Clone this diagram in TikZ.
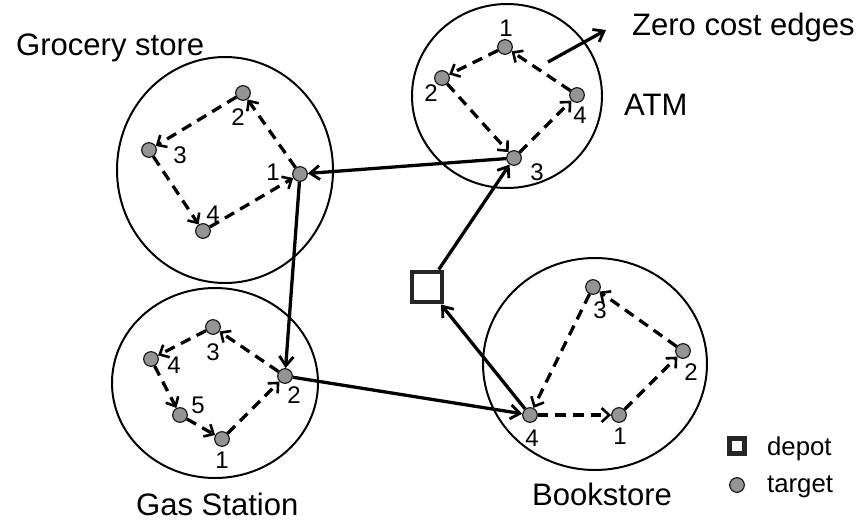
\documentclass[tikz,border=0pt]{standalone}
\usepackage{fontspec}
\setmainfont{Liberation Sans}
\usetikzlibrary{arrows.meta}

\begin{document}
\begin{tikzpicture}[x=0.03cm,y=-0.03cm,
		target/.style={circle,draw=black!90,fill=gray!60!black!60,line width=1pt,inner sep=0pt,minimum size=12.5pt},
		depotbox/.style={draw=black!85,fill=white,inner sep=0pt},
		place/.style={line width=1.7pt},
		tour/.style={line width=2.8pt,dash pattern=on 9pt off 6pt,-{Straight Barb[length=6.5pt,width=12pt,line width=2.2pt]}},
		route/.style={line width=2.8pt,-{Straight Barb[length=8pt,width=12pt,line width=2.4pt]}},
		num/.style={font=\fontsize{20.5}{24}\selectfont},
		title/.style={font=\fontsize{26.5}{30}\selectfont,anchor=base west},
		legend/.style={font=\fontsize{22}{26}\selectfont,anchor=base west}
	]
		\useasboundingbox (0,0) rectangle (860,520);
		
		% places
		\draw[place] (225,170) ellipse [x radius=108, y radius=113];
		\draw[place] (507,96) ellipse [x radius=95, y radius=92];
		\draw[place] (215,383) ellipse [x radius=103, y radius=95];
		\draw[place] (595,364) ellipse [x radius=112, y radius=106];
		
		\node[title] (grocery) at (12,55) {Grocery store};
		\node[title] (atm) at (620,115) {ATM};
		\node[title] (gas) at (132,515) {Gas Station};
		\node[title] (book) at (528,505) {Bookstore};
		\node[title] (zero) at (628,35) {Zero cost edges};
		
		% targets
		\node[target] (g1) at (300,174) {};
		\node[target] (g2) at (243,93) {};
		\node[target] (g3) at (149,150) {};
		\node[target] (g4) at (203,231) {};
		\node[num] at (273,172) {1};
		\node[num] at (238,117) {2};
		\node[num] at (180,155) {3};
		\node[num] at (213,214) {4};
		
		\node[target] (a1) at (505,47) {};
		\node[target] (a2) at (442,78) {};
		\node[target] (a3) at (514,158) {};
		\node[target] (a4) at (577,95) {};
		\node[num] at (506,28) {1};
		\node[num] at (431,93) {2};
		\node[num] at (537,172) {3};
		\node[num] at (580,115) {4};
		
		\node[target] (s1) at (222,439) {};
		\node[target] (s2) at (285,376) {};
		\node[target] (s3) at (213,327) {};
		\node[target] (s4) at (151,359) {};
		\node[target] (s5) at (180,415) {};
		\node[num] at (222,460) {1};
		\node[num] at (294,395) {2};
		\node[num] at (213,352) {3};
		\node[num] at (174,365) {4};
		\node[num] at (198,405) {5};
		
		\node[target] (b1) at (619,415) {};
		\node[target] (b2) at (683,351) {};
		\node[target] (b3) at (593,287) {};
		\node[target] (b4) at (530,415) {};
		\node[num] at (620,436) {1};
		\node[num] at (691,372) {2};
		\node[num] at (600,310) {3};
		\node[num] at (532,438) {4};
		
		\node[depotbox,line width=3.8pt,minimum size=26pt] (depot) at (427,287) {};
		
		% zero cost tours
		\draw[tour] (g1) -- (g2);
		\draw[tour] (g2) -- (g3);
		\draw[tour] (g3) -- (g4);
		\draw[tour] (g4) -- (g1);
		
		\draw[tour] (a1) -- (a2);
		\draw[tour] (a2) -- (a3);
		\draw[tour] (a3) -- (a4);
		\draw[tour] (a4) -- (a1);
		
		\draw[tour] (s1) -- (s2);
		\draw[tour] (s2) -- (s3);
		\draw[tour] (s3) -- (s4);
		\draw[tour] (s4) -- (s5);
		\draw[tour] (s5) -- (s1);
		
		\draw[tour] (b4) -- (b1);
		\draw[tour] (b1) -- (b2);
		\draw[tour] (b2) -- (b3);
		\draw[tour] (b3) -- (b4);
		
		% route
		\draw[route] (depot) -- (a3);
		\draw[route] (a3) -- (g1);
		\draw[route] (g1) -- (s2);
		\draw[route] (s2) -- (b4);
		\draw[route] (b4) -- (depot);
		
		\coordinate (zc) at (548,62);
		\coordinate (zt) at (606,30);
		\draw[route] (zc) -- (zt);
		
		% legend
		\node[depotbox,line width=4.5pt,minimum size=12.5pt] (keydepot) at (737,446) {};
		\node[legend] (keydepottext) at (763,455) {depot};
		\node[target] (keytarget) at (737,485) {};
		\node[legend] (keytargettext) at (763,492) {target};
\end{tikzpicture}
\end{document}
